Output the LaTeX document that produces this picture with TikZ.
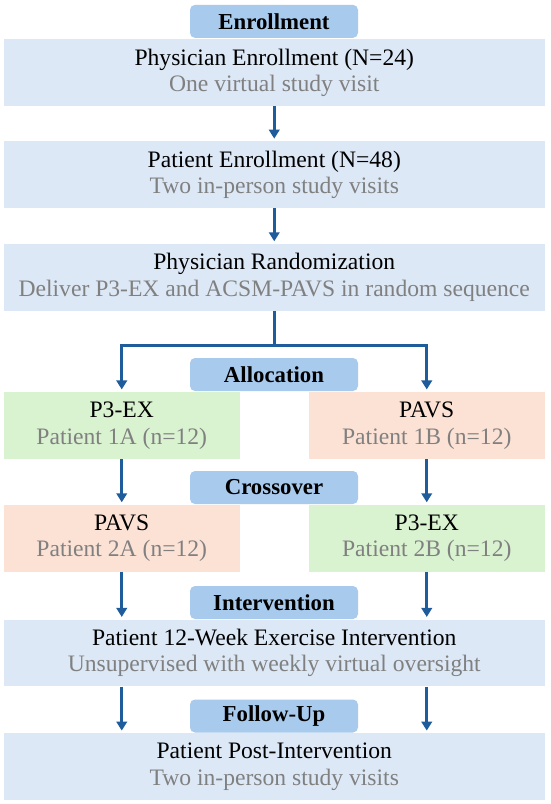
\documentclass[tikz,border=0pt]{standalone}
\usepackage{fontspec}
\setmainfont{Liberation Serif}
\usetikzlibrary{arrows.meta}
\definecolor{boxblue}{HTML}{DCE8F6}
\definecolor{tagblue}{HTML}{A8CAED}
\definecolor{boxgreen}{HTML}{D9F2D0}
\definecolor{boxpink}{HTML}{FBE2D5}
\definecolor{subgray}{HTML}{808080}
\definecolor{arrblue}{HTML}{1F5C9C}
\newcommand{\sub}[1]{\textcolor{subgray}{#1}}
\tikzset{
  wide/.style={rectangle, fill=boxblue, minimum width=541.5pt, minimum height=66.7pt, align=center, inner sep=0pt, font=\fontsize{23.6}{26.5}\selectfont},
  half/.style={rectangle, minimum width=236.5pt, minimum height=66.7pt, align=center, inner sep=0pt, font=\fontsize{23.6}{26.5}\selectfont},
  gbox/.style={half, fill=boxgreen},
  pbox/.style={half, fill=boxpink},
  tag/.style={rectangle, rounded corners=5pt, fill=tagblue, minimum width=168pt, minimum height=33pt, inner sep=0pt, font=\fontsize{22.8}{25}\selectfont\bfseries},
  arr/.style={draw=arrblue, line width=2.8pt, -{Triangle[width=10.5pt,length=9pt]}, shorten >=2.5pt}
}
\begin{document}
\begin{tikzpicture}[x=1pt,y=-1pt]
\useasboundingbox (0,0) rectangle (550,804);
% wide boxes
\node[wide] (b1) at (274.25,72.65) {Physician Enrollment (N=24)\\\sub{One virtual study visit}};
\node[wide] (b2) at (274.25,174.7) {Patient Enrollment (N=48)\\\sub{Two in-person study visits}};
\node[wide] (b3) at (274.25,277.35) {Physician Randomization\\\sub{Deliver P3-EX and ACSM-PAVS in random sequence}};
\node[gbox] (g1) at (121.75,425.5) {P3-EX\\\sub{Patient 1A (n=12)}};
\node[pbox] (p1) at (426.75,425.5) {PAVS\\\sub{Patient 1B (n=12)}};
\node[pbox] (p2) at (121.75,538.35) {PAVS\\\sub{Patient 2A (n=12)}};
\node[gbox] (g2) at (426.75,538.35) {P3-EX\\\sub{Patient 2B (n=12)}};
\node[wide] (b4) at (274.25,653) {Patient 12-Week Exercise Intervention\\\sub{Unsupervised with weekly virtual oversight}};
\node[wide] (b5) at (274.25,766.65) {Patient Post-Intervention\\\sub{Two in-person study visits}};
% tags
\node[tag] (t1) at (274,21.35) {Enrollment};
\node[tag] (t2) at (274,374.5) {Allocation};
\node[tag] (t3) at (274,487.5) {Crossover};
\node[tag] (t4) at (274,602.5) {Intervention};
\node[tag] (t5) at (274,716) {Follow-Up};
% connectors
\coordinate (split) at (274.25,345.7);
\draw[arr] (b1.south) -- (b2.north);
\draw[arr] (b2.south) -- (b3.north);
\draw[arr] (b3.south) -- (split) -| (g1.north);
\draw[arr] (split) -| (p1.north);
\draw[arr] (g1.south) -- (p2.north);
\draw[arr] (p1.south) -- (g2.north);
\draw[arr] (p2.south) -- (p2.south |- b4.north);
\draw[arr] (g2.south) -- (g2.south |- b4.north);
\draw[arr] (b4.south -| p2.south) -- (p2.south |- b5.north);
\draw[arr] (b4.south -| g2.south) -- (g2.south |- b5.north);
\end{tikzpicture}
\end{document}
